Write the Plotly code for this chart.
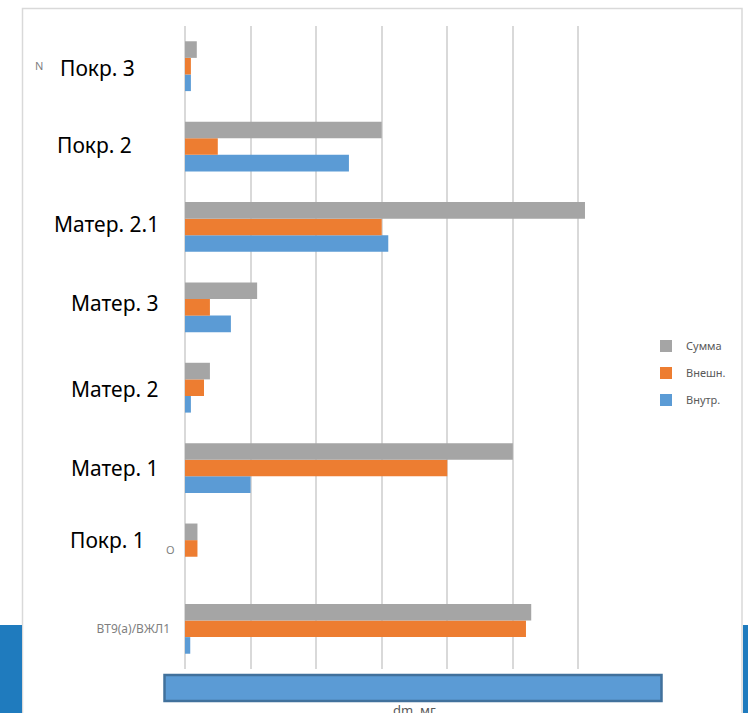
import plotly.graph_objects as go

# Categories from bottom to top of the chart
categories = ["ВТ9(а)/ВЖЛ1", "Покр. 1", "Матер. 1", "Матер. 2",
              "Матер. 3", "Матер. 2.1", "Покр. 2", "Покр. 3"]

# Mass change dm, mg per sample
inner = [0.08, 0.0, 1.0, 0.09, 0.7, 3.1, 2.5, 0.09]     # Внутр.
outer = [5.2, 0.19, 4.0, 0.29, 0.38, 3.0, 0.5, 0.09]    # Внешн.
total = [5.28, 0.19, 5.0, 0.38, 1.1, 6.1, 3.0, 0.18]    # Сумма

series_names = ["Внутр.", "Внешн.", "Сумма"]
series_colors = ["#5B9BD5", "#ED7D31", "#A5A5A5"]
legend_ranks = [3, 2, 1]

# Large sample captions drawn beside the category axis
captions = ["Покр. 3", "Покр. 2", "Матер. 2.1", "Матер. 3",
            "Матер. 2", "Матер. 1", "Покр. 1"]

W, H = 748, 713
L, R, T, B = 185, 644, 26, 669   # plot area in pixels


def px(x):
    return (x - L) / (R - L)


def py(y):
    return (B - y) / (B - T)


fig = go.Figure()
for name, vals, col, rank in zip(series_names, [inner, outer, total],
                                 series_colors, legend_ranks):
    fig.add_trace(go.Bar(
        y=categories, x=vals, name=name, orientation="h",
        marker=dict(color=col, line=dict(width=0)),
        legendgroup=name, legendrank=rank,
    ))

shapes = []
# outer frame of the chart
shapes.append(dict(type="rect", xref="paper", yref="paper",
                   x0=px(22.5), x1=px(742), y0=py(8.5), y1=py(730),
                   line=dict(color="#D9D9D9", width=1.5),
                   fillcolor="rgba(0,0,0,0)", layer="below"))
# blue side bands
shapes.append(dict(type="rect", xref="paper", yref="paper",
                   x0=px(-5), x1=px(22), y0=py(625), y1=py(720),
                   line=dict(width=0), fillcolor="#1F7BBE", layer="above"))
shapes.append(dict(type="rect", xref="paper", yref="paper",
                   x0=px(743), x1=px(760), y0=py(625), y1=py(720),
                   line=dict(width=0), fillcolor="#1F7BBE", layer="above"))
# blue banner over the value axis
shapes.append(dict(type="rect", xref="paper", yref="paper",
                   x0=px(164.5), x1=px(661.5), y0=py(675), y1=py(701),
                   line=dict(color="#41719C", width=2.5),
                   fillcolor="#5B9BD5", layer="above"))

big_font = dict(family="Noto Sans, Open Sans, sans-serif", size=21, color="#000000")
small_font = dict(family="Noto Sans, Open Sans, sans-serif", size=11, color="#7F7F7F")

annotations = []
# (right edge, vertical centre) of each caption in pixels
caption_pos = [(137, 68), (134, 145), (161, 224), (161, 303),
               (161, 389), (161, 468), (147, 540)]
for text, (x, y) in zip(captions, caption_pos):
    annotations.append(dict(text=text, xref="paper", yref="paper",
                            x=px(x), y=py(y), xanchor="right", yanchor="middle",
                            showarrow=False, font=big_font))
annotations.append(dict(text="N", xref="paper", yref="paper",
                        x=px(33), y=py(66), xanchor="left", yanchor="middle",
                        showarrow=False, font=small_font))
annotations.append(dict(text="O", xref="paper", yref="paper",
                        x=px(164), y=py(549), xanchor="left", yanchor="middle",
                        showarrow=False, font=small_font))
annotations.append(dict(text="dm, мг", xref="paper", yref="paper",
                        x=px(414), y=py(710), xanchor="center", yanchor="middle",
                        showarrow=False,
                        font=dict(family="Noto Sans, Open Sans, sans-serif",
                                  size=13, color="#595959")))

fig.update_layout(
    width=W, height=H,
    margin=dict(l=L, r=W - R, t=T, b=H - B, pad=0, autoexpand=False),
    paper_bgcolor="white", plot_bgcolor="white",
    barmode="group", bargap=0.38, bargroupgap=0,
    showlegend=True,
    legend=dict(x=px(646), y=py(373), xanchor="left", yanchor="middle",
                traceorder="grouped", tracegroupgap=8,
                font=dict(family="Noto Sans, Open Sans, sans-serif",
                          size=11, color="#595959"),
                bgcolor="rgba(0,0,0,0)", itemwidth=30),
    xaxis=dict(range=[0, 7], dtick=1, showticklabels=False,
               showgrid=True, gridcolor="#D9D9D9", gridwidth=1.5,
               zeroline=True, zerolinecolor="#D9D9D9", zerolinewidth=1.5,
               showline=False, fixedrange=True),
    yaxis=dict(type="category", categoryorder="array", categoryarray=categories,
               range=[-0.5, 7.5], tickmode="array",
               tickvals=[categories[0]], ticktext=["ВТ9(а)/ВЖЛ1"],
               ticks="", ticklabelstandoff=14, showgrid=False,
               tickfont=dict(family="Noto Sans, Open Sans, sans-serif",
                             size=12, color="#7F7F7F"),
               showline=False, zeroline=False, fixedrange=True),
    shapes=shapes, annotations=annotations,
)

fig.write_html("out.html")
